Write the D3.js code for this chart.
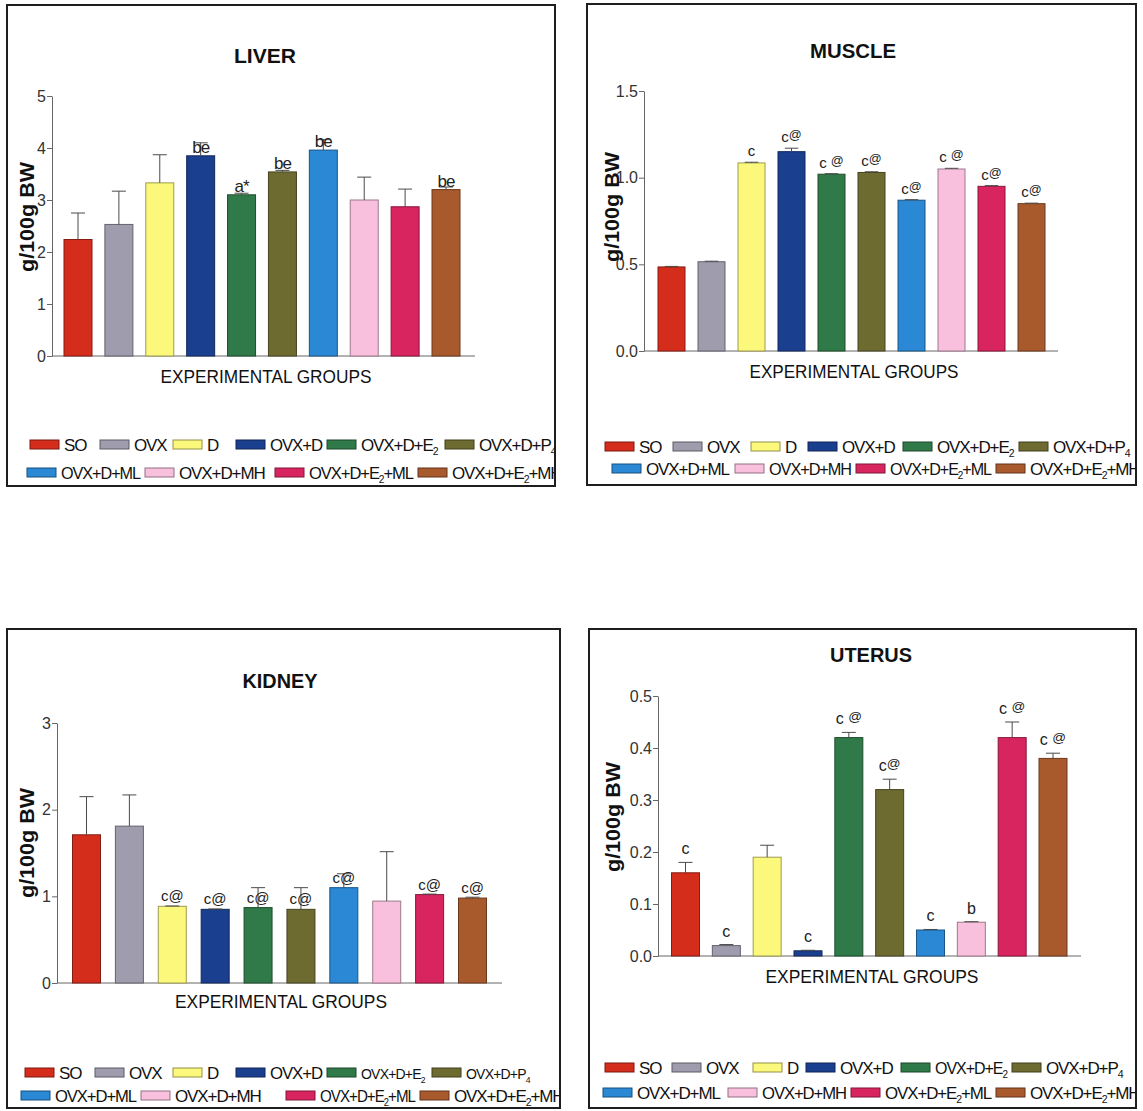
<!DOCTYPE html>
<html>
<head>
<meta charset="utf-8">
<script src="https://cdn.jsdelivr.net/npm/d3@7"></script>
<style>
  html, body { margin: 0; padding: 0; background: #fff; }
  svg { display: block; }
</style>
</head>
<body>
<svg id="fig" width="1143" height="1111"></svg>
<script>
// Experimental groups and their bar colours
const groups = ["SO", "OVX", "D", "OVX+D", "OVX+D+E2", "OVX+D+P4",
                "OVX+D+ML", "OVX+D+MH", "OVX+D+E2+ML", "OVX+D+E2+MH"];
const groupColors = ["#d42d1c", "#9e9cad", "#fbf87c", "#1b3f8f", "#2f7a48",
                     "#6e6b31", "#2a88d4", "#f9c0dd", "#d8255f", "#a85a2c"];

// Organ weights, g/100g body weight (mean and upper error)
const liverMean   = [2.24, 2.53, 3.33, 3.85, 3.10, 3.54, 3.96, 3.00, 2.87, 3.20];
const liverErr    = [0.51, 0.64, 0.54, 0.25, 0.03, 0.03, 0.20, 0.44, 0.34, 0.05];
const liverLabels = ["", "", "", "be", "a*", "be", "be", "", "", "be"];
const liverTicks  = [0, 1, 2, 3, 4, 5];

const muscleMean   = [0.485, 0.515, 1.085, 1.15, 1.02, 1.03, 0.87, 1.05, 0.95, 0.85];
const muscleErr    = [0.003, 0.003, 0.004, 0.02, 0.003, 0.004, 0.003, 0.004, 0.004, 0.003];
const muscleLabels = ["", "", "c", "c@", "c @", "c@", "c@", "c @", "c@", "c@"];
const muscleTicks  = [0.0, 0.5, 1.0, 1.5];

const kidneyMean   = [1.71, 1.81, 0.885, 0.85, 0.87, 0.85, 1.10, 0.945, 1.02, 0.98];
const kidneyErr    = [0.44, 0.36, 0.004, 0.004, 0.23, 0.25, 0.16, 0.57, 0.006, 0.01];
const kidneyLabels = ["", "", "c@", "c@", "c@", "c@", "c@", "", "c@", "c@"];
const kidneyTicks  = [0, 1, 2, 3];

const uterusMean   = [0.16, 0.02, 0.19, 0.01, 0.42, 0.32, 0.05, 0.065, 0.42, 0.38];
const uterusErr    = [0.02, 0.002, 0.023, 0.001, 0.01, 0.02, 0.001, 0.001, 0.03, 0.01];
const uterusLabels = ["c", "c", "", "c", "c @", "c@", "c", "b", "c @", "c @"];
const uterusTicks  = [0.0, 0.1, 0.2, 0.3, 0.4, 0.5];

const FONT = '"Liberation Sans", Arial, Helvetica, sans-serif';
const svg = d3.select("#fig");
svg.append("rect").attr("width", 1143).attr("height", 1111).attr("fill", "#fff");

// Panel layout
const panels = [
  { id: "liver", title: "LIVER", mean: liverMean, err: liverErr, labels: liverLabels,
    ticks: liverTicks, fmt: d3.format("d"),
    box: { x: 7, y: 5, w: 548, h: 481 },
    axisX: 52, baseY: 356, topY: 96, c0: 78, c9: 446, barW: 28, xEnd: 475,
    titleX: 265, titleY: 63, titleW: 62,
    yLabX: 27, yLabY: 217, xTitleX: 266, xTitleY: 383, xTitleW: 211,
    labelFrom: "mean", labelGap: 3, labelSize: 17, atScale: 0.8, atRaise: 3,
    legendSize: 17, legendSmall: [],
    legend: [{ y: 445, xs: [30, 100, 173, 236, 327, 445] },
             { y: 473, xs: [27, 145, 275, 418] }] },
  { id: "muscle", title: "MUSCLE", mean: muscleMean, err: muscleErr, labels: muscleLabels,
    ticks: muscleTicks, fmt: d3.format(".1f"),
    box: { x: 587, y: 4, w: 549, h: 481 },
    axisX: 644, baseY: 351, topY: 91, c0: 671.5, c9: 1031.5, barW: 27, xEnd: 1058,
    titleX: 853, titleY: 58, titleW: 86,
    yLabX: 612, yLabY: 207, xTitleX: 854, xTitleY: 378, xTitleW: 209,
    labelFrom: "err", labelGap: 6, labelSize: 15, atScale: 0.85, atRaise: 3,
    legendSize: 17, legendSmall: [],
    legend: [{ y: 447, xs: [605, 673, 751, 808, 903, 1019] },
             { y: 469, xs: [612, 735, 856, 996] }] },
  { id: "kidney", title: "KIDNEY", mean: kidneyMean, err: kidneyErr, labels: kidneyLabels,
    ticks: kidneyTicks, fmt: d3.format("d"),
    box: { x: 7, y: 629, w: 553, h: 479 },
    axisX: 57, baseY: 983, topY: 723, c0: 86.5, c9: 472.5, barW: 28, xEnd: 502,
    titleX: 280, titleY: 688, titleW: 75,
    yLabX: 27, yLabY: 843, xTitleX: 281, xTitleY: 1008, xTitleW: 212,
    labelFrom: "mean", labelGap: 5, labelSize: 15, atScale: 1, atRaise: 0,
    legendSize: 17, legendSmall: [4, 5],
    legend: [{ y: 1073, xs: [25, 95, 173, 236, 327, 432] },
             { y: 1096, xs: [21, 141, 286, 420] }] },
  { id: "uterus", title: "UTERUS", mean: uterusMean, err: uterusErr, labels: uterusLabels,
    ticks: uterusTicks, fmt: d3.format(".1f"),
    box: { x: 589, y: 629, w: 547, h: 479 },
    axisX: 658, baseY: 956, topY: 696, c0: 685.5, c9: 1053, barW: 28, xEnd: 1081,
    titleX: 871, titleY: 662, titleW: 82,
    yLabX: 613, yLabY: 817, xTitleX: 872, xTitleY: 983, xTitleW: 213,
    labelFrom: "err", labelGap: 8, labelSize: 16, atScale: 0.85, atRaise: 3,
    legendSize: 17, legendSmall: [],
    legend: [{ y: 1068, xs: [605, 672, 753, 806, 901, 1012] },
             { y: 1093, xs: [603, 728, 851, 996] }] }
];

// Split a group name into normal and subscript runs (E2, P4)
function nameRuns(name) {
  const runs = [];
  const re = /([EP])(\d)/g;
  let last = 0, m;
  while ((m = re.exec(name))) {
    runs.push({ t: name.slice(last, m.index + 1), sub: false });
    runs.push({ t: m[2], sub: true });
    last = m.index + 2;
  }
  if (last < name.length) runs.push({ t: name.slice(last), sub: false });
  return runs;
}

function writeName(textSel, name) {
  let shifted = false;
  nameRuns(name).forEach(r => {
    const ts = textSel.append("tspan").text(r.t);
    if (r.sub) { ts.attr("font-size", "0.62em").attr("dy", 4); shifted = true; }
    else if (shifted) { ts.attr("dy", -4); shifted = false; }
  });
}

function writeLabel(textSel, str, p) {
  const parts = str.split("@");
  textSel.append("tspan").text(parts[0]);
  if (parts.length > 1) {
    textSel.append("tspan").text("@")
      .attr("font-size", (p.labelSize * p.atScale) + "px")
      .attr("dy", -p.atRaise);
  }
}

panels.forEach(p => {
  const g = svg.append("g").attr("id", p.id);

  // frame
  g.append("rect")
    .attr("x", p.box.x).attr("y", p.box.y).attr("width", p.box.w).attr("height", p.box.h)
    .attr("fill", "none").attr("stroke", "#1e1e1e").attr("stroke-width", 2);

  const clipId = "clip-" + p.id;
  svg.append("clipPath").attr("id", clipId)
    .append("rect").attr("x", p.box.x + 1).attr("y", p.box.y + 1)
    .attr("width", p.box.w - 2).attr("height", p.box.h - 2);

  // scales
  const step = (p.c9 - p.c0) / (groups.length - 1);
  const inner = 1 - p.barW / step;
  const x = d3.scaleBand().domain(groups)
    .range([p.c0 - step / 2, p.c9 + step / 2])
    .paddingInner(inner).paddingOuter(inner / 2);
  const y = d3.scaleLinear().domain([0, d3.max(p.ticks)]).range([p.baseY, p.topY]);

  // title
  g.append("text").attr("x", p.titleX).attr("y", p.titleY)
    .attr("text-anchor", "middle").attr("font-family", FONT)
    .attr("font-weight", "bold").attr("font-size", 21).attr("fill", "#111")
    .attr("textLength", p.titleW).attr("lengthAdjust", "spacingAndGlyphs")
    .text(p.title);

  // y axis
  const yAxis = d3.axisLeft(y).tickValues(p.ticks).tickFormat(p.fmt)
    .tickSize(5).tickSizeOuter(0).tickPadding(1);
  const ya = g.append("g").attr("transform", `translate(${p.axisX},0)`).call(yAxis);
  ya.select(".domain").attr("stroke", "#666").attr("stroke-width", 1);
  ya.selectAll(".tick line").attr("stroke", "#666");
  ya.selectAll(".tick text").attr("font-family", FONT).attr("font-size", 16)
    .attr("fill", "#333");

  // x baseline
  g.append("line").attr("x1", p.axisX).attr("x2", p.xEnd)
    .attr("y1", y(0)).attr("y2", y(0)).attr("stroke", "#666").attr("stroke-width", 1);

  // y axis title
  g.append("text")
    .attr("transform", `translate(${p.yLabX},${p.yLabY}) rotate(-90)`)
    .attr("text-anchor", "middle").attr("dominant-baseline", "central")
    .attr("font-family", FONT).attr("font-weight", "bold").attr("font-size", 20)
    .attr("fill", "#111").attr("textLength", 110).attr("lengthAdjust", "spacingAndGlyphs")
    .text("g/100g BW");

  // x axis title
  g.append("text").attr("x", p.xTitleX).attr("y", p.xTitleY)
    .attr("text-anchor", "middle").attr("font-family", FONT).attr("font-size", 18)
    .attr("fill", "#111").attr("textLength", p.xTitleW).attr("lengthAdjust", "spacingAndGlyphs")
    .text("EXPERIMENTAL GROUPS");

  const rows = groups.map((name, i) => ({
    name, color: groupColors[i], mean: p.mean[i], err: p.err[i], label: p.labels[i]
  }));

  // bars
  g.append("g").selectAll("rect").data(rows).join("rect")
    .attr("x", d => x(d.name)).attr("width", x.bandwidth())
    .attr("y", d => y(d.mean)).attr("height", d => y(0) - y(d.mean))
    .attr("fill", d => d.color)
    .attr("stroke", d => d3.color(d.color).darker(1.3))
    .attr("stroke-width", 1);

  // upper error bars
  const eb = g.append("g").attr("stroke", "#4a4a4a").attr("stroke-width", 1);
  rows.forEach(d => {
    const cx = x(d.name) + x.bandwidth() / 2;
    const top = y(d.mean + d.err);
    eb.append("line").attr("x1", cx).attr("x2", cx).attr("y1", y(d.mean)).attr("y2", top);
    eb.append("line").attr("x1", cx - p.barW / 4).attr("x2", cx + p.barW / 4)
      .attr("y1", top).attr("y2", top);
  });

  // significance letters
  rows.filter(d => d.label).forEach(d => {
    const cx = x(d.name) + x.bandwidth() / 2;
    const base = p.labelFrom === "err" ? y(d.mean + d.err) : y(d.mean);
    const t = g.append("text").attr("x", cx).attr("y", base - p.labelGap)
      .attr("text-anchor", "middle").attr("font-family", FONT)
      .attr("font-size", p.labelSize).attr("fill", "#222")
      .attr("letter-spacing", p.id === "liver" ? -1 : 0);
    writeLabel(t, d.label, p);
  });

  // legend: swatch + name; a name is squeezed if it would run into the next swatch
  const lg = g.append("g").attr("clip-path", `url(#${clipId})`);
  let k = 0;
  p.legend.forEach(row => {
    row.xs.forEach((lx, j) => {
      const idx = k++;
      const d = rows[idx];
      lg.append("rect").attr("x", lx).attr("y", row.y - 5).attr("width", 29).attr("height", 9)
        .attr("fill", d.color).attr("stroke", d3.color(d.color).darker(1.5)).attr("stroke-width", 1);
      const small = p.legendSmall.includes(idx);
      const t = lg.append("text").attr("x", lx + 34).attr("y", row.y + 6)
        .attr("font-family", FONT).attr("font-size", small ? 14 : p.legendSize)
        .attr("fill", "#111").attr("letter-spacing", small ? -0.8 : -1.1);
      writeName(t, d.name);
      if (j < row.xs.length - 1) {
        const room = row.xs[j + 1] - (lx + 34) - 5;
        if (t.node().getComputedTextLength() > room) {
          t.attr("textLength", room).attr("lengthAdjust", "spacingAndGlyphs");
        }
      }
    });
  });
});
</script>
</body>
</html>
